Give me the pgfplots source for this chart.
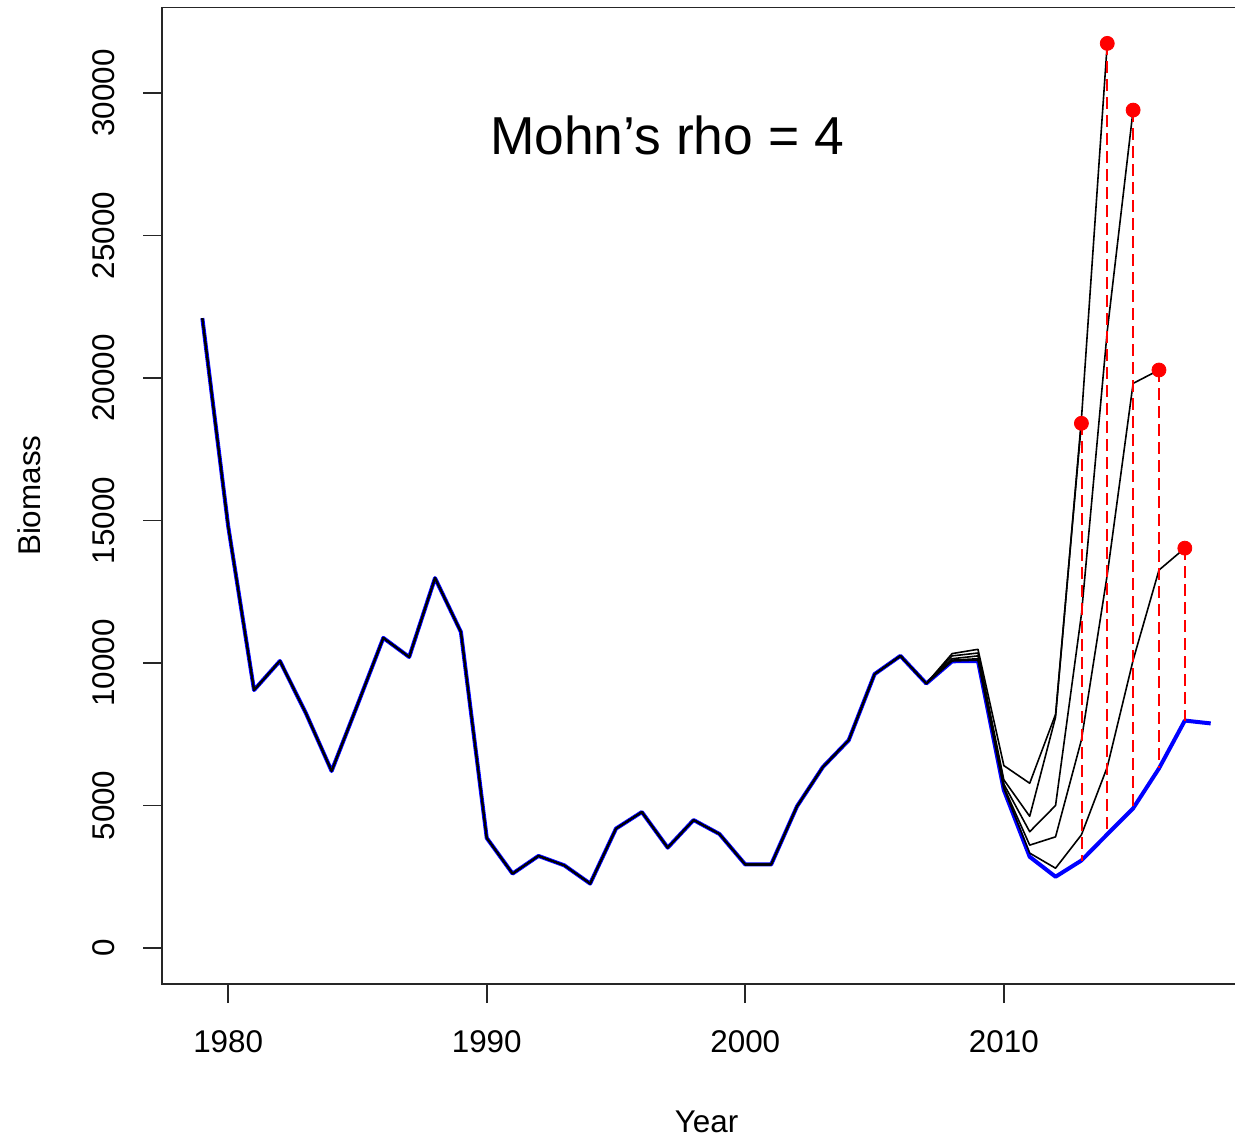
\documentclass[border=0pt]{standalone}
\usepackage{fontspec}
\setmainfont{Liberation Sans}
\usepackage{pgfplots}
\usepackage{pgfplotstable}
\pgfplotsset{compat=1.18}

\pgfplotstableread{
year base p13 p14 p15 p16 p17
1979 22100 22100 22100 22100 22100 22100
1980 14800 14800 14800 14800 14800 14800
1981 9050 9050 9050 9050 9050 9050
1982 10070 10070 10070 10070 10070 10070
1983 8250 8250 8250 8250 8250 8250
1984 6210 6210 6210 6210 6210 6210
1985 8530 8530 8530 8530 8530 8530
1986 10880 10880 10880 10880 10880 10880
1987 10210 10210 10210 10210 10210 10210
1988 12980 12980 12980 12980 12980 12980
1989 11090 11090 11090 11090 11090 11090
1990 3860 3860 3860 3860 3860 3860
1991 2610 2610 2610 2610 2610 2610
1992 3230 3230 3230 3230 3230 3230
1993 2900 2900 2900 2900 2900 2900
1994 2260 2260 2260 2260 2260 2260
1995 4190 4190 4190 4190 4190 4190
1996 4770 4770 4770 4770 4770 4770
1997 3520 3520 3520 3520 3520 3520
1998 4490 4490 4490 4490 4490 4490
1999 4000 4000 4000 4000 4000 4000
2000 2930 2930 2930 2930 2930 2930
2001 2930 2930 2930 2930 2930 2930
2002 4970 4970 4970 4970 4970 4970
2003 6350 6350 6350 6350 6350 6350
2004 7290 7290 7290 7290 7290 7290
2005 9610 9610 9610 9610 9610 9610
2006 10250 10250 10250 10250 10250 10250
2007 9280 9280 9280 9280 9280 9280
2008 10060 10330 10250 10150 10100 10070
2009 10070 10480 10350 10250 10150 10100
2010 5540 6400 5900 5750 5650 5600
2011 3200 5780 4620 4080 3610 3330
2012 2500 8200 8100 5000 3900 2800
2013 3070 18410 18550 11700 7300 3970
2014 3990 nan 31740 21650 13100 6350
2015 4900 nan nan 29400 19810 10100
2016 6300 nan nan nan 20280 13260
2017 7980 nan nan nan nan 14030
2018 7880 nan nan nan nan nan
}\retro

\begin{document}
\begin{tikzpicture}
\begin{axis}[
  at={(0,0)}, anchor=south west, scale only axis,
  width=544.5pt, height=488.25pt,
  xmin=1977.44, xmax=2019.56, ymin=-1263, ymax=33000,
  axis line style={line width=0.9pt, black!85},
  tick style={line width=0.9pt, black!85},
  tick align=outside, major tick length=9.5pt,
  tick pos=left,
  xtick={1980,1990,2000,2010},
  ytick={0,5000,10000,15000,20000,25000,30000},
  scaled y ticks=false, scaled x ticks=false,
  /pgf/number format/1000 sep={},
  /pgf/number format/assume math mode=true,
  xticklabel style={font=\fontsize{15.7}{18}\selectfont, anchor=base, yshift=-24.5pt},
  yticklabel style={font=\fontsize{15.7}{18}\selectfont, anchor=base, xshift=-14.5pt, rotate=90},
  xlabel={Year}, ylabel={Biomass},
  every axis x label/.style={at={(axis description cs:0.5,0)}, anchor=base, yshift=-74pt, font=\fontsize{15.7}{18}\selectfont},
  every axis y label/.style={at={(axis description cs:0,0.5)}, anchor=base, xshift=-60.5pt, rotate=90, font=\fontsize{15.7}{18}\selectfont},
  unbounded coords=jump,
]
\addplot[blue, line width=2pt, line join=round] table[x=year, y=base] {\retro};
\addplot[black, line width=0.8pt, line join=round] table[x=year, y=p13] {\retro};
\addplot[black, line width=0.8pt, line join=round] table[x=year, y=p14] {\retro};
\addplot[black, line width=0.8pt, line join=round] table[x=year, y=p15] {\retro};
\addplot[black, line width=0.8pt, line join=round] table[x=year, y=p16] {\retro};
\addplot[black, line width=0.8pt, line join=round] table[x=year, y=p17] {\retro};
\addplot[color=red, line width=1pt, dash pattern=on 6pt off 3pt] coordinates {(2013.03,18410) (2013.03,3070)};
\addplot[color=red, line width=1pt, dash pattern=on 6pt off 3pt] coordinates {(2014,31740) (2014,3990)};
\addplot[color=red, line width=1pt, dash pattern=on 6pt off 3pt] coordinates {(2015,29400) (2015,4900)};
\addplot[color=red, line width=1pt, dash pattern=on 6pt off 3pt] coordinates {(2016,20280) (2016,6300)};
\addplot[color=red, line width=1pt, dash pattern=on 6pt off 3pt] coordinates {(2017,14030) (2017,7980)};
\addplot[only marks, mark=*, mark size=3.5pt, red, mark options={fill=red, draw=red}] coordinates {(2013,18410) (2014,31740) (2015,29400) (2016,20280) (2017,14030)};
\node[anchor=base, font=\fontsize{26.7}{30}\selectfont] at (axis cs:1996.97,27825) {Mohn’s rho = 4};
\end{axis}
\pgfresetboundingbox
\useasboundingbox (-81pt,-77pt) rectangle (536.5pt,492pt);
\end{tikzpicture}
\end{document}
